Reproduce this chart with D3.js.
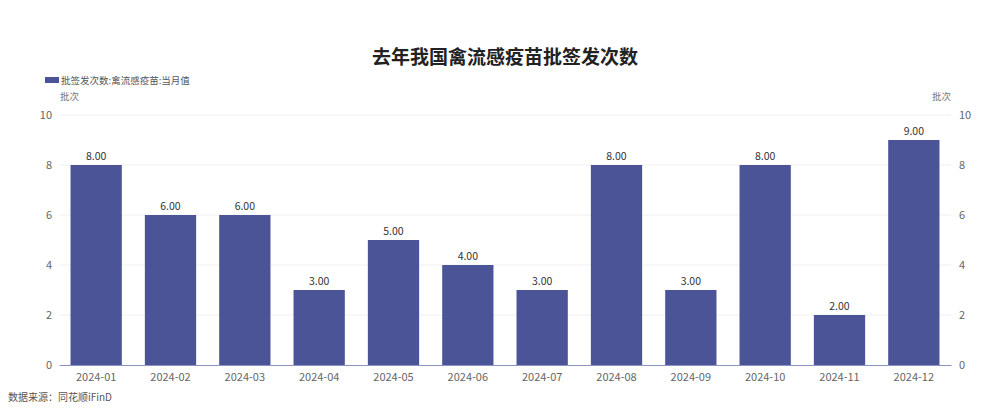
<!DOCTYPE html>
<html>
<head>
<meta charset="utf-8">
<script src="https://cdn.jsdelivr.net/npm/d3@7"></script>
<style>
  body { margin: 0; background: #fff; }
  text { font-family: "Noto Sans CJK SC", "Noto Sans", sans-serif; }
</style>
</head>
<body>
<script>
// chart data
const months = ["2024-01", "2024-02", "2024-03", "2024-04", "2024-05", "2024-06",
                "2024-07", "2024-08", "2024-09", "2024-10", "2024-11", "2024-12"];
const counts = [8, 6, 6, 3, 5, 4, 3, 8, 3, 8, 2, 9];
const yTicks = [0, 2, 4, 6, 8, 10];
const title = "去年我国禽流感疫苗批签发次数";
const seriesName = "批签发次数:禽流感疫苗:当月值";
const unit = "批次";
const source = "数据来源：同花顺iFinD";

const width = 981, height = 410;
const margin = { top: 115, right: 30, bottom: 45, left: 59 };
const barColor = "#4b5497";

const svg = d3.select("body").append("svg")
  .attr("width", width)
  .attr("height", height);

const xScale = d3.scaleBand()
  .domain(months)
  .range([margin.left, width - margin.right])
  .paddingInner(0.31)
  .paddingOuter(0.155);

const yScale = d3.scaleLinear()
  .domain([0, 10])
  .range([height - margin.bottom, margin.top]);

// grid lines
svg.append("g")
  .selectAll("line")
  .data(yTicks.filter(d => d > 0))
  .join("line")
  .attr("x1", margin.left)
  .attr("x2", width - margin.right)
  .attr("y1", d => yScale(d))
  .attr("y2", d => yScale(d))
  .attr("stroke", "#f0f0f0");

// left axis
const yAxisL = d3.axisLeft(yScale).tickValues(yTicks).tickSize(0).tickPadding(7);
svg.append("g")
  .attr("transform", `translate(${margin.left},0)`)
  .call(yAxisL)
  .call(g => g.select(".domain").remove())
  .selectAll("text").attr("fill", "#666").style("font-size", "11px");

// right axis
const yAxisR = d3.axisRight(yScale).tickValues(yTicks).tickSize(0).tickPadding(8);
svg.append("g")
  .attr("transform", `translate(${width - margin.right},0)`)
  .call(yAxisR)
  .call(g => g.select(".domain").remove())
  .selectAll("text").attr("fill", "#666").style("font-size", "11px");

// bars
svg.selectAll(".bar")
  .data(counts)
  .join("rect")
  .attr("class", "bar")
  .attr("x", (d, i) => xScale(months[i]))
  .attr("y", d => yScale(d))
  .attr("width", xScale.bandwidth())
  .attr("height", d => yScale(0) - yScale(d))
  .attr("fill", barColor);

// value labels
svg.selectAll(".val")
  .data(counts)
  .join("text")
  .attr("class", "val")
  .attr("x", (d, i) => xScale(months[i]) + xScale.bandwidth() / 2)
  .attr("y", d => yScale(d) - 5)
  .attr("text-anchor", "middle")
  .attr("fill", "#333")
  .style("font-size", "10.5px")
  .text(d => d.toFixed(2));

// x axis
const xAxis = d3.axisBottom(xScale).tickSize(0).tickPadding(8);
svg.append("g")
  .attr("transform", `translate(0,${yScale(0)})`)
  .call(xAxis)
  .call(g => g.select(".domain").attr("stroke", "#8a93c4"))
  .selectAll("text").attr("fill", "#666").style("font-size", "11px");

// title
svg.append("text")
  .attr("x", 505)
  .attr("y", 64)
  .attr("text-anchor", "middle")
  .attr("fill", "#222")
  .style("font-size", "19px")
  .style("font-weight", "bold")
  .text(title);

// legend
svg.append("rect")
  .attr("x", 45).attr("y", 77)
  .attr("width", 14).attr("height", 6)
  .attr("fill", barColor);
svg.append("text")
  .attr("x", 61).attr("y", 84)
  .attr("fill", "#555")
  .style("font-size", "9.5px")
  .text(seriesName);

// unit labels
svg.append("text")
  .attr("x", 60).attr("y", 100)
  .attr("fill", "#777")
  .style("font-size", "9.5px")
  .text(unit);
svg.append("text")
  .attr("x", 951).attr("y", 100)
  .attr("text-anchor", "end")
  .attr("fill", "#777")
  .style("font-size", "9.5px")
  .text(unit);

// source
svg.append("text")
  .attr("x", 8).attr("y", 401)
  .attr("fill", "#555")
  .style("font-size", "10px")
  .text(source);
</script>
</body>
</html>
